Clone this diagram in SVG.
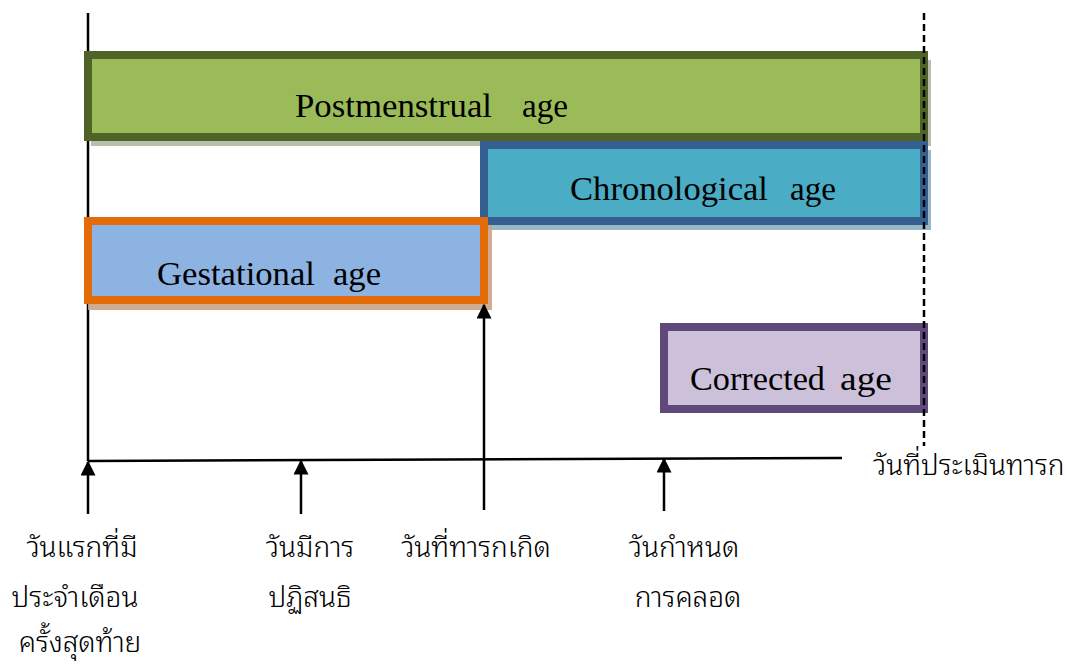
<svg xmlns="http://www.w3.org/2000/svg" width="1067" height="664" viewBox="0 0 1067 664">
<defs>
<style>
.lbl{font-family:"Liberation Serif","Times New Roman",serif;font-size:33px;fill:#000}
.th{font-family:"Noto Sans Thai Looped","Loma","Garuda","Noto Sans Thai","Noto Sans",sans-serif;font-size:28px;font-weight:300;fill:#000}
.ln{stroke:#000;stroke-width:2.5;fill:none}
</style>
<marker id="ah" viewBox="0 0 10 10" refX="9" refY="5" markerWidth="6" markerHeight="6" markerUnits="strokeWidth" orient="auto">
<path d="M0,0 L10,5 L0,10 z" fill="#000"/>
</marker>
</defs>
<rect width="1067" height="664" fill="#fff"/>
<line x1="88" y1="13" x2="88" y2="461" class="ln" stroke-width="2"/>
<g id="postmenstrual">
<rect x="91" y="60" width="840" height="86" fill="#7f8a6a" opacity="0.55"/>
<rect x="88" y="55" width="836" height="82" fill="#9BBB59" stroke="#4F6228" stroke-width="8"/>
<text class="lbl" x="295" y="117" textLength="197" lengthAdjust="spacingAndGlyphs">Postmenstrual</text>
<text class="lbl" x="522" y="117" textLength="46" lengthAdjust="spacingAndGlyphs">age</text>
</g>
<g id="chronological">
<rect x="487" y="150" width="444" height="80" fill="#6e98ad" opacity="0.7"/>
<rect x="484" y="145" width="440" height="76" fill="#4BACC6" stroke="#355F91" stroke-width="8"/>
<text class="lbl" x="570" y="200" textLength="198" lengthAdjust="spacingAndGlyphs">Chronological</text>
<text class="lbl" x="790" y="200" textLength="46" lengthAdjust="spacingAndGlyphs">age</text>
</g>
<g id="gestational">
<rect x="88" y="225" width="404" height="85" fill="#c9a488" opacity="0.9"/>
<rect x="88" y="221" width="396" height="79" fill="#8DB3E2" stroke="#E36C09" stroke-width="8"/>
<text class="lbl" x="157" y="285" textLength="158" lengthAdjust="spacingAndGlyphs">Gestational</text>
<text class="lbl" x="333" y="285" textLength="48" lengthAdjust="spacingAndGlyphs">age</text>
</g>
<g id="corrected">
<rect x="664" y="327" width="260" height="82" fill="#CCC0DA" stroke="#5F497A" stroke-width="8"/>
<text class="lbl" x="690" y="390" textLength="135" lengthAdjust="spacingAndGlyphs">Corrected</text>
<text class="lbl" x="840" y="390" textLength="52" lengthAdjust="spacingAndGlyphs">age</text>
</g>
<g id="connectors">
<line x1="924" y1="13" x2="924" y2="446" stroke="#000" stroke-width="2.5" stroke-dasharray="7,4"/>
<line x1="88" y1="461" x2="842" y2="458" class="ln" stroke-width="2"/>
<line x1="88" y1="514" x2="88" y2="462" class="ln" stroke-width="3" marker-end="url(#ah)"/>
<line x1="301" y1="514" x2="301" y2="461" class="ln" stroke-width="3" marker-end="url(#ah)"/>
<line x1="664" y1="511" x2="664" y2="459" class="ln" stroke-width="3" marker-end="url(#ah)"/>
<line x1="484" y1="510" x2="484" y2="305" class="ln" stroke-width="3" marker-end="url(#ah)"/>
</g>
<g id="labels">
<text class="th" x="82" y="557" text-anchor="middle">วันแรกที่มี</text>
<text class="th" x="75" y="607" text-anchor="middle">ประจำเดือน</text>
<text class="th" x="80" y="652" text-anchor="middle">ครั้งสุดท้าย</text>
<text class="th" x="310" y="557" text-anchor="middle">วันมีการ</text>
<text class="th" x="310" y="607" text-anchor="middle">ปฏิสนธิ</text>
<text class="th" x="476" y="557" text-anchor="middle">วันที่ทารกเกิด</text>
<text class="th" x="684" y="557" text-anchor="middle">วันกำหนด</text>
<text class="th" x="688" y="607" text-anchor="middle">การคลอด</text>
<text class="th" x="873" y="475">วันที่ประเมินทารก</text>
</g>
</svg>
